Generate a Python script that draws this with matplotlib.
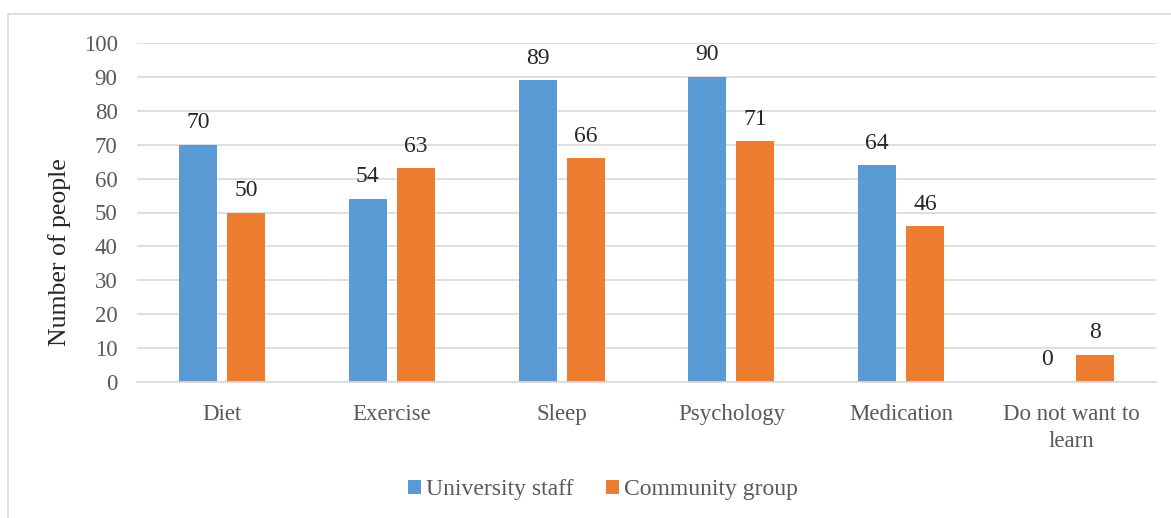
import matplotlib.pyplot as plt
import matplotlib.patches as mpatches
import numpy as np

categories = ['Diet', 'Exercise', 'Sleep', 'Psychology', 'Medication', 'Do not want to\nlearn']
staff = [70, 54, 89, 90, 64, 0]
community = [50, 63, 66, 71, 46, 8]

plt.rcParams['font.family'] = ['Liberation Serif', 'DejaVu Serif']

fig = plt.figure(figsize=(11.71, 5.18), dpi=100)
ax = fig.add_axes([137/1171, 1 - 382/518, (1156-137)/1171, (382-43)/518])

# outer frame
fig.patches.append(mpatches.Rectangle((8/1171, -0.1), 1.2, 1 - 14/518 + 0.1,
                                      transform=fig.transFigure, fill=False,
                                      edgecolor='#D9D9D9', linewidth=1.2))

x = np.arange(len(categories))
w = 0.224
off = 0.141
b1 = ax.bar(x - off, staff, w, color='#5B9BD5', label='University staff')
b2 = ax.bar(x + off, community, w, color='#ED7D31', label='Community group')

for bars, vals in ((b1, staff), (b2, community)):
    for r, v in zip(bars, vals):
        ax.text(r.get_x() + r.get_width()/2, v + 3.4, str(v), ha='center', va='bottom',
                fontsize=17, color='#262626')

ax.set_xlim(-0.5, len(categories) - 0.5)
ax.set_ylim(0, 100)
ax.set_yticks(range(0, 101, 10))
ax.set_xticks(x)
ax.set_xticklabels(categories, linespacing=1.35)
ax.tick_params(axis='both', length=0, labelsize=16.5, colors='#595959')
ax.tick_params(axis='y', pad=14)
ax.tick_params(axis='x', pad=16)
ax.grid(axis='y', color='#D9D9D9', linewidth=1.2)
ax.set_axisbelow(True)
for s in ['top', 'right', 'left']:
    ax.spines[s].set_visible(False)
ax.spines['bottom'].set_color('#D9D9D9')
ax.spines['bottom'].set_linewidth(1.2)

fig.text(60/1171, 1 - 252/518, 'Number of people', rotation=90, ha='center', va='center',
         fontsize=18.5, color='#262626')

fig.legend(handles=[b1, b2], loc='center', bbox_to_anchor=(603/1171, 1 - 490/518),
           ncol=2, frameon=False, fontsize=17, handlelength=0.55, handleheight=0.55,
           handletextpad=0.2, columnspacing=1.4, labelcolor='#595959')

plt.savefig('out.png')
